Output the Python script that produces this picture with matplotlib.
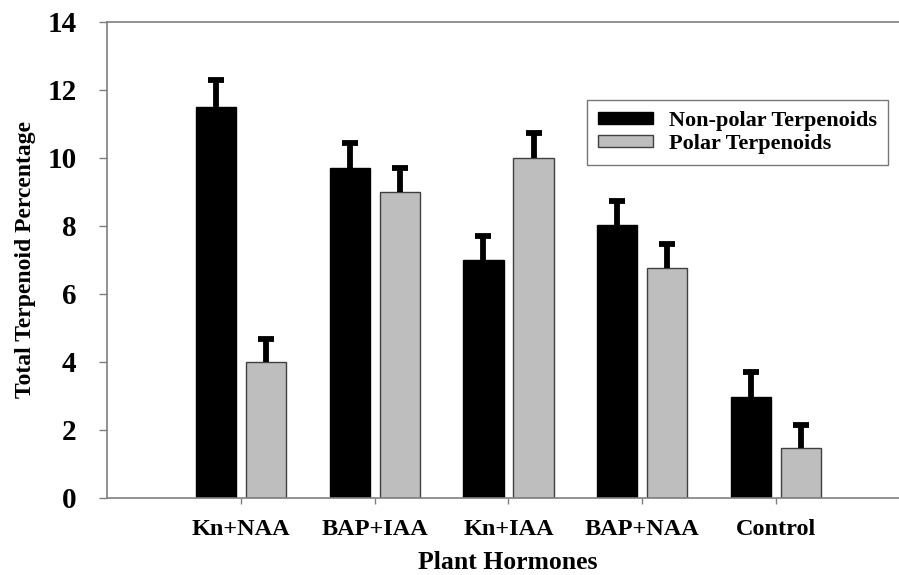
import matplotlib
matplotlib.use("Agg")
import matplotlib.pyplot as plt
import numpy as np

categories = ["Kn+NAA", "BAP+IAA", "Kn+IAA", "BAP+NAA", "Control"]
nonpolar = [11.5, 9.7, 7.0, 8.03, 2.98]
nonpolar_err = [0.78, 0.73, 0.70, 0.72, 0.74]
polar = [4.0, 9.0, 10.0, 6.76, 1.48]
polar_err = [0.68, 0.72, 0.73, 0.70, 0.68]
series_labels = ["Non-polar Terpenoids", "Polar Terpenoids"]
yticks = [0, 2, 4, 6, 8, 10, 12, 14]

plt.rcParams['font.family'] = ['Liberation Serif', 'DejaVu Serif']
plt.rcParams['font.weight'] = 'bold'

fig = plt.figure(figsize=(8.99, 5.75), dpi=100)
ax = fig.add_axes([107/899, 1 - 498/575, 1 - 107/899, (498 - 22)/575])

x = np.arange(len(categories))
w = 0.30
off = 0.187
spine_col = '#7f7f7f'

ax.bar(x - off, nonpolar, width=w, color='black', edgecolor='black', linewidth=1,
       label=series_labels[0], zorder=2)
ax.bar(x + off, polar, width=w, color='#bebebe', edgecolor='#404040', linewidth=1,
       label=series_labels[1], zorder=2)

ekw = dict(fmt='none', ecolor='black', elinewidth=4.2, capsize=6, capthick=4.2, zorder=3)
for xs, vals, errs in [(x - off, nonpolar, nonpolar_err), (x + off, polar, polar_err)]:
    cont = ax.errorbar(xs, vals, yerr=[np.zeros(len(vals)), errs], **ekw)
    caps = cont.lines[1]
    if len(caps) == 2:
        caps[0].set_visible(False)

ax.set_xlim(-1.0, 4.918)
ax.set_ylim(0, 14)
ax.set_yticks(yticks)
ax.set_yticklabels([str(t) for t in yticks], fontsize=21, fontweight='bold')
ax.set_xticks(x)
ax.set_xticklabels(categories, fontsize=17.5, fontweight='bold')

ax.tick_params(axis='y', direction='out', length=6, width=1, color=spine_col, pad=16)
ax.tick_params(axis='x', direction='out', length=4, width=1, color=spine_col, pad=11)

for s in ['left', 'bottom', 'top']:
    ax.spines[s].set_color(spine_col)
    ax.spines[s].set_linewidth(1.2)
ax.spines['right'].set_visible(False)

ax.set_ylabel("Total Terpenoid Percentage", fontsize=17, fontweight='bold')
ax.yaxis.set_label_coords(-0.1025, 0.5)
ax.set_xlabel("Plant Hormones", fontsize=18.5, fontweight='bold')
ax.xaxis.set_label_coords(0.506, -0.136)
ax.xaxis.label.set_va('center')
ax.yaxis.label.set_va('center')

leg = ax.legend(loc='upper left', bbox_to_anchor=((587 - 107)/792, (498 - 100)/476),
                fontsize=16, frameon=True, fancybox=False, borderpad=0.5,
                handlelength=2.45, handleheight=0.42, handletextpad=0.72,
                labelspacing=0.12, borderaxespad=0)
leg.get_frame().set_edgecolor('#555555')
leg.get_frame().set_linewidth(1)
for t in leg.get_texts():
    t.set_fontweight('bold')

fig.savefig("out.png", dpi=100)
